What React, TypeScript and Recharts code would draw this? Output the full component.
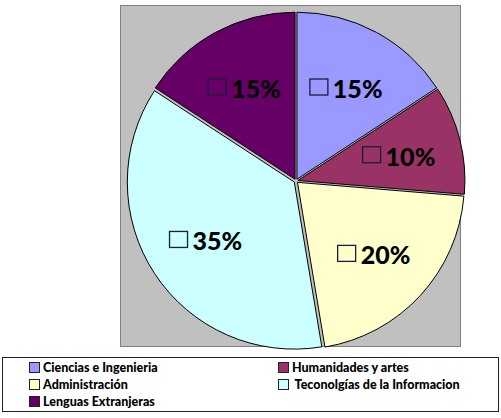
import { PieChart, Pie, Cell, Sector } from "recharts";

const categories = [
  "Ciencias e Ingenieria",
  "Humanidades y artes",
  "Administración",
  " Teconolgías de la Informacion",
  "Lenguas Extranjeras",
];
const shares = [15, 10, 20, 35, 15];
const colors = ["#9999FF", "#993366", "#FFFFCC", "#CCFFFF", "#660066"];

const data = categories.map((name, i) => ({ name, value: shares[i] }));

const RAD = Math.PI / 180;
const FONT = "Lato, 'Open Sans', sans-serif";

// pull each slice a couple of pixels out from the centre
function ExplodedSector(props: any) {
  const { cx, cy, midAngle } = props;
  const off = 2;
  const dx = off * Math.cos(-midAngle * RAD);
  const dy = off * Math.sin(-midAngle * RAD);
  return <Sector {...props} cx={cx + dx} cy={cy + dy} stroke="#000" strokeWidth={1} />;
}

function SliceLabel({ cx, cy, midAngle, outerRadius, value }: any) {
  const r = outerRadius * 0.64;
  const x = cx + r * Math.cos(-midAngle * RAD);
  const y = cy + r * Math.sin(-midAngle * RAD);
  return (
    <g>
      <rect x={x - 37} y={y - 8} width={18} height={16} fill="none" stroke="#1c1c3c" strokeWidth={1.3} />
      <text
        x={x - 14}
        y={y + 1}
        dominantBaseline="central"
        fontFamily={FONT}
        fontWeight={900}
        fontSize={25}
        fill="#000"
      >
        {value}%
      </text>
    </g>
  );
}

function LegendBox() {
  const cols = [29, 278];
  return (
    <div
      style={{
        position: "absolute",
        left: 2,
        top: 357,
        width: 495,
        height: 53,
        border: "1px solid #222",
        background: "#fff",
      }}
    >
      {categories.map((name, i) => (
        <div
          key={name}
          style={{
            position: "absolute",
            left: cols[i % 2] - 3,
            top: 2 + Math.floor(i / 2) * 17,
            display: "flex",
            alignItems: "center",
            fontFamily: FONT,
            fontWeight: 900,
            fontSize: 12.5,
            whiteSpace: "pre",
            color: "#000",
          }}
        >
          <span
            style={{
              display: "inline-block",
              width: 9,
              height: 9,
              background: colors[i],
              border: "1px solid #222",
              marginRight: 3,
            }}
          />
          {name}
        </div>
      ))}
    </div>
  );
}

export default function App() {
  return (
    <div style={{ position: "absolute", left: 0, top: 0, width: 501, height: 418, background: "#fff" }}>
      <div
        style={{
          position: "absolute",
          left: 120,
          top: 5,
          width: 339,
          height: 340,
          background: "#C0C0C0",
          border: "1px solid #808080",
        }}
      />
      <div style={{ position: "absolute", left: 0, top: 0 }}>
        <PieChart width={501} height={350}>
          <Pie
            data={data}
            dataKey="value"
            nameKey="name"
            cx={291}
            cy={176}
            outerRadius={167}
            startAngle={90}
            endAngle={-270}
            stroke="#000"
            strokeWidth={1}
            shape={ExplodedSector}
            label={SliceLabel}
            labelLine={false}
            isAnimationActive={false}
          >
            {data.map((d, i) => (
              <Cell key={d.name} fill={colors[i]} />
            ))}
          </Pie>
        </PieChart>
      </div>
      <LegendBox />
    </div>
  );
}
